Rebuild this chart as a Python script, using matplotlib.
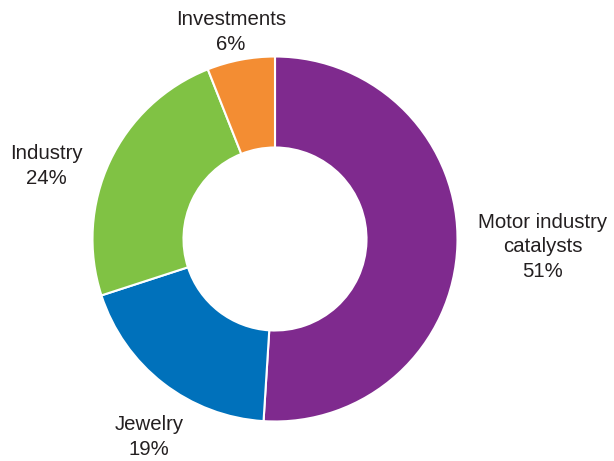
import matplotlib.pyplot as plt

# share of demand by sector, clockwise from 12 o'clock
sectors = ["Motor industry\ncatalysts", "Jewelry", "Industry", "Investments"]
shares = [51, 19, 24, 6]
colors = ["#7f2a8e", "#0071bb", "#80c244", "#f38d33"]

# where each label goes (figure pixels, y from top)
label_pos = [(543, 247), (149, 437), (46, 166), (231, 32)]

W, H = 614, 461

def main():
    fig = plt.figure(figsize=(W / 100, H / 100), dpi=100)
    ax = fig.add_axes([0, 0, 1, 1])
    ax.pie(shares, colors=colors, startangle=90, counterclock=False,
           center=(275, H - 239), radius=182.5,
           wedgeprops=dict(width=91, edgecolor="white", linewidth=1.5))
    ax.set_xlim(0, W)
    ax.set_ylim(0, H)
    ax.set_aspect("equal")
    ax.axis("off")

    for name, val, (x, y) in zip(sectors, shares, label_pos):
        ax.text(x, H - y, "%s\n%d%%" % (name, val), ha="center", va="center",
                fontsize=14.7, family="Liberation Sans", color="#231f20",
                linespacing=1.38)

    fig.savefig("out.png", dpi=100)

if __name__ == '__main__':
    main()
